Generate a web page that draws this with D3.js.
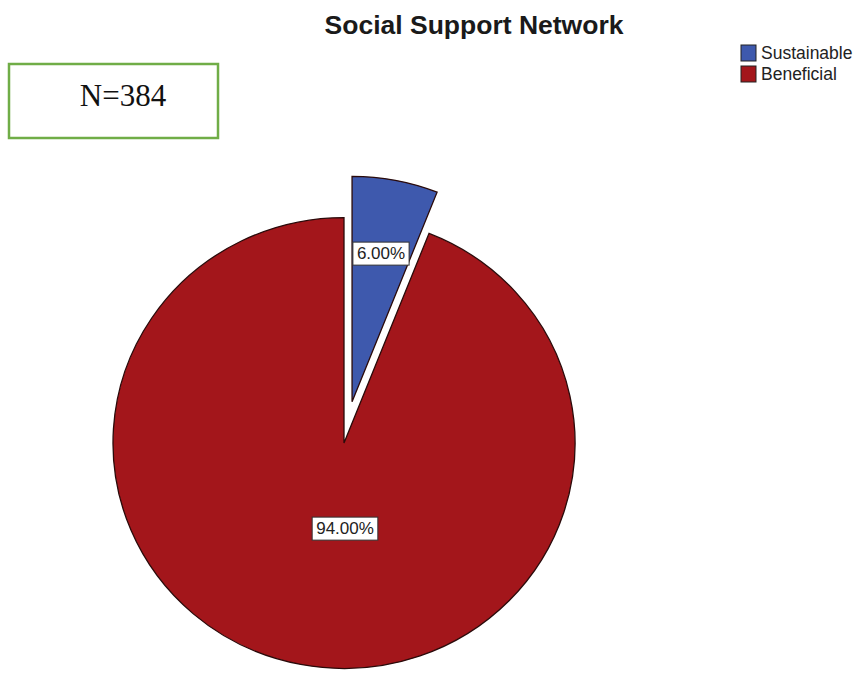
<!DOCTYPE html>
<html>
<head>
<meta charset="utf-8">
<script src="https://cdn.jsdelivr.net/npm/d3@7/dist/d3.min.js"></script>
<style>
  body { margin: 0; background: #fff; }
  svg { display: block; }
</style>
</head>
<body>
<svg id="chart" width="859" height="675"></svg>
<script>
// Social support network — share of respondents by category
const categories = ["Sustainable", "Beneficial"];
const percentages = [6.0, 94.0];
const sliceColors = ["#3e59ad", "#a3161b"];
const sampleLabel = "N=384";
const chartTitle = "Social Support Network";

const svg = d3.select("#chart");

// title
svg.append("text")
  .attr("x", 474).attr("y", 34)
  .attr("text-anchor", "middle")
  .attr("font-family", "Liberation Sans, Arial, sans-serif")
  .attr("font-weight", "bold")
  .attr("font-size", 26.5)
  .attr("fill", "#1a1a1a")
  .text(chartTitle);

// sample-size box
svg.append("rect")
  .attr("x", 9).attr("y", 64).attr("width", 209).attr("height", 74)
  .attr("fill", "#fff").attr("stroke", "#70ad47").attr("stroke-width", 2.5);
svg.append("text")
  .attr("x", 123).attr("y", 106)
  .attr("text-anchor", "middle")
  .attr("font-family", "Liberation Serif, Times New Roman, serif")
  .attr("font-size", 31)
  .attr("fill", "#111")
  .text(sampleLabel);

// legend
const legend = svg.append("g").attr("transform", "translate(741,45)");
categories.forEach((c, i) => {
  const g = legend.append("g").attr("transform", `translate(0,${i * 21})`);
  g.append("rect").attr("width", 15).attr("height", 16)
    .attr("fill", sliceColors[i]).attr("stroke", "#222").attr("stroke-width", 1);
  g.append("text").attr("x", 20).attr("y", 14)
    .attr("font-family", "Liberation Sans, Arial, sans-serif")
    .attr("font-size", 17.5).attr("fill", "#222")
    .text(c);
});

// pie (slightly flattened vertically)
const cx = 344, cy = 443, r = 231, sy = 0.976;
const pie = d3.pie().sort(null).startAngle(0).endAngle(2 * Math.PI)
  .value(d => d.value);
const arcs = pie(categories.map((c, i) => ({ name: c, value: percentages[i], color: sliceColors[i] })));
const arc = d3.arc().innerRadius(0).outerRadius(r);
const explode = 43;

const pieG = svg.append("g").attr("transform", `translate(${cx},${cy}) scale(1,${sy})`);
arcs.forEach((a, i) => {
  const mid = (a.startAngle + a.endAngle) / 2;
  const off = i === 0 ? explode : 0;
  const dx = Math.sin(mid) * off, dy = -Math.cos(mid) * off;
  const g = pieG.append("g").attr("transform", `translate(${dx},${dy})`);
  g.append("path").attr("d", arc(a))
    .attr("fill", a.data.color)
    .attr("stroke", "#2a0a0a").attr("stroke-width", 1.3)
    .attr("stroke-linejoin", "miter");
});

// value labels
const labelPos = [[381, 253], [345, 528]];
arcs.forEach((a, i) => {
  const txt = percentages[i].toFixed(2) + "%";
  const g = svg.append("g").attr("transform", `translate(${labelPos[i][0]},${labelPos[i][1]})`);
  const t = g.append("text")
    .attr("text-anchor", "middle").attr("dy", "0.36em")
    .attr("font-family", "Liberation Sans, Arial, sans-serif")
    .attr("font-size", 17).attr("fill", "#222")
    .text(txt);
  const bb = t.node().getBBox();
  g.insert("rect", "text")
    .attr("x", bb.x - 4).attr("y", bb.y - 2)
    .attr("width", bb.width + 8).attr("height", bb.height + 4)
    .attr("fill", "#fff").attr("stroke", "#333").attr("stroke-width", 1);
});
</script>
</body>
</html>
